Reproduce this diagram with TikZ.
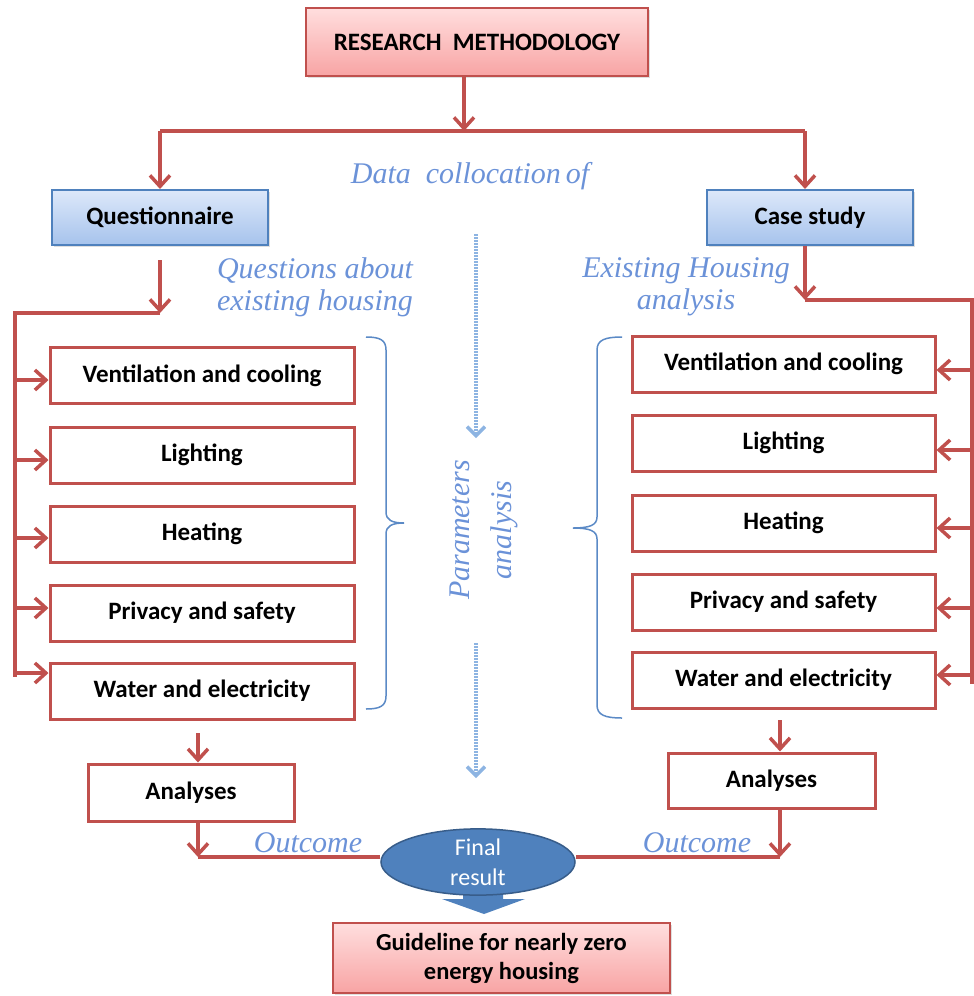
\documentclass[tikz,border=0pt]{standalone}
\usepackage{fontspec}
\newfontfamily\calfont{Carlito}
\newfontfamily\lblfont{Liberation Serif}
\usetikzlibrary{arrows.meta,shapes.geometric,shadows}
\definecolor{rc}{HTML}{C0504D}
\definecolor{pinkT}{HTML}{FFDEDE}
\definecolor{pinkB}{HTML}{F8A4A4}
\definecolor{blueT}{HTML}{DDE8FA}
\definecolor{blueB}{HTML}{A6C3EC}
\definecolor{bbord}{HTML}{4F81BD}
\definecolor{lblue}{HTML}{6B92D8}
\definecolor{brc}{HTML}{5B8AC6}
\definecolor{dotc}{HTML}{8DB4E2}
\definecolor{ebl}{HTML}{4F81BD}
\definecolor{ebd}{HTML}{385D8A}
\tikzset{
  boxfont/.style={font=\calfont\bfseries\fontsize{25}{30}\selectfont},
  pinkbox/.style={draw=rc, line width=2pt, top color=pinkT, bottom color=pinkB, boxfont, inner sep=0pt, align=center,
    drop shadow={opacity=0.25, shadow xshift=2pt, shadow yshift=-2pt}},
  bluebox/.style={draw=bbord, line width=2pt, top color=blueT, bottom color=blueB, boxfont, inner sep=0pt,
    drop shadow={opacity=0.25, shadow xshift=2pt, shadow yshift=-2pt}},
  redbox/.style={draw=rc, line width=3pt, fill=white, boxfont, inner sep=0pt},
  conn/.style={draw=rc, line width=3.5pt, line join=miter},
  tipd/.style={-{Straight Barb[length=11pt,width=20pt]}},
  lbl/.style={text=lblue, font=\lblfont\itshape\fontsize{30}{32}\selectfont, inner sep=0pt, align=center},
  brcs/.style={draw=brc, line width=1.5pt},
  dotl/.style={draw=dotc, line width=3.5pt, dash pattern=on 1.5pt off 1.5pt, -{Straight Barb[length=9pt,width=18pt]}}
}
\begin{document}
\begin{tikzpicture}[x=1pt,y=-1pt]
\useasboundingbox (0,0) rectangle (974,996);
% boxes
\node[pinkbox, minimum width=342pt, minimum height=68pt] (rm) at (477,42) {RESEARCH\ \ METHODOLOGY};
\node[bluebox, minimum width=216pt, minimum height=55pt] (q) at (160,217.5) {Questionnaire};
\node[bluebox, minimum width=206pt, minimum height=55pt] (cs) at (810,217.5) {Case study};
\foreach \i/\y/\t in {1/375.5/Ventilation and cooling,2/455/Lighting,3/534/Heating,4/613/Privacy and safety,5/691/Water and electricity}
  \node[redbox, minimum width=304pt, minimum height=56pt] (l\i) at (202,\y) {\t};
\foreach \i/\y/\t in {1/364/Ventilation and cooling,2/443/Lighting,3/523/Heating,4/602/Privacy and safety,5/680/Water and electricity}
  \node[redbox, minimum width=303pt, minimum height=56pt] (r\i) at (783.5,\y) {\t};
\node[redbox, minimum width=206pt, minimum height=57pt] (al) at (191,792.5) {Analyses};
\node[redbox, minimum width=207pt, minimum height=55pt] (ar) at (771.5,780.5) {Analyses};
% block arrow
\fill[ebl] (463,880) -- (503,880) -- (503,899) -- (525,899) -- (484,914) -- (442,899) -- (463,899) -- cycle;
\node[ellipse, fill=ebl, draw=ebd, line width=1.5pt, minimum width=194pt, minimum height=60pt, inner sep=0pt,
  text=white, align=center, font=\calfont\fontsize{24}{30}\selectfont] (fin) at (478,862) {Final\\result};
\node[pinkbox, minimum width=337pt, minimum height=70pt, font=\calfont\bfseries\fontsize{24.5}{29}\selectfont] (gl) at (501.5,958) {Guideline for nearly zero\\energy housing};
% top connectors
\coordinate (c0) at (464,131);
\coordinate (cl) at (160,131);
\coordinate (cr) at (805,131);
\draw[conn,tipd] (rm.south -| c0) -- (c0);
\draw[conn] (cl) -- (cr);
\draw[conn,tipd] (cl) -- (q.north -| cl);
\draw[conn,tipd] (cr) -- (cs.north -| cr);
% left trunk
\coordinate (qs) at (160,260);
\coordinate (qb) at (160,313);
\coordinate (lx) at (15,313);
\coordinate (lb) at (15,677);
\draw[conn,tipd] (qs) -- (qb);
\draw[conn] (qb) -- (lx) -- (lb);
\foreach \i/\y in {1/380,2/460,3/538,4/608,5/673}
  \draw[conn,tipd] (lx |- 0,\y) -- (l\i.west |- 0,\y);
% right trunk
\coordinate (rb) at (805,300);
\coordinate (rx) at (972,300);
\coordinate (rbb) at (972,684);
\draw[conn,tipd] (cs.south -| rb) -- (rb);
\draw[conn] (rb) -- (rx) -- (rbb);
\foreach \i/\y in {1/370,2/450,3/528,4/608,5/675}
  \draw[conn,tipd] (rx |- 0,\y) -- (r\i.east |- 0,\y);
% to analyses
\coordinate (la) at (198,733);
\coordinate (ra) at (780,720);
\draw[conn,tipd] (la) -- (al.north -| la);
\draw[conn,tipd] (ra) -- (ar.north -| ra);
\coordinate (lo) at (198,857);
\coordinate (ro) at (780,857);
\draw[conn,tipd] (al.south -| lo) -- (lo);
\draw[conn,tipd] (ar.south -| ro) -- (ro);
\draw[conn] (lo) -- (fin.west |- lo);
\draw[conn] (ro) -- (fin.east |- ro);
% braces
\draw[brcs] (366,337) .. controls (380,337) and (386,340) .. (386,350) -- (386,512)
  .. controls (386,520) and (392,523) .. (404,523) .. controls (392,523) and (386,526) .. (386,534)
  -- (386,696) .. controls (386,706) and (380,709) .. (366,709);
\draw[brcs] (622,337) .. controls (605,337) and (597,340) .. (597,350) -- (597,517)
  .. controls (597,525) and (590,528) .. (573,528) .. controls (590,528) and (597,531) .. (597,539)
  -- (597,705) .. controls (597,715) and (605,718) .. (622,718);
% dotted arrows
\coordinate (d1) at (476,234);
\coordinate (d2) at (476,438);
\coordinate (d3) at (476,643);
\coordinate (d4) at (476,778);
\draw[dotl] (d1) -- (d2);
\draw[dotl] (d3) -- (d4);
% labels
\node[lbl] (dc) at (470,176) {Data\ \ collocation\,of};
\node[lbl] (qa) at (315,287) {Questions about\\existing housing};
\node[lbl] (eh) at (686,287) {Existing Housing\\analysis};
\node[lbl, rotate=90, font=\lblfont\itshape\fontsize{30}{42}\selectfont] (pa) at (484,530) {Parameters\\analysis};
\node[lbl] (o1) at (308,843) {Outcome};
\node[lbl] (o2) at (697,843) {Outcome};
\end{tikzpicture}
\end{document}
